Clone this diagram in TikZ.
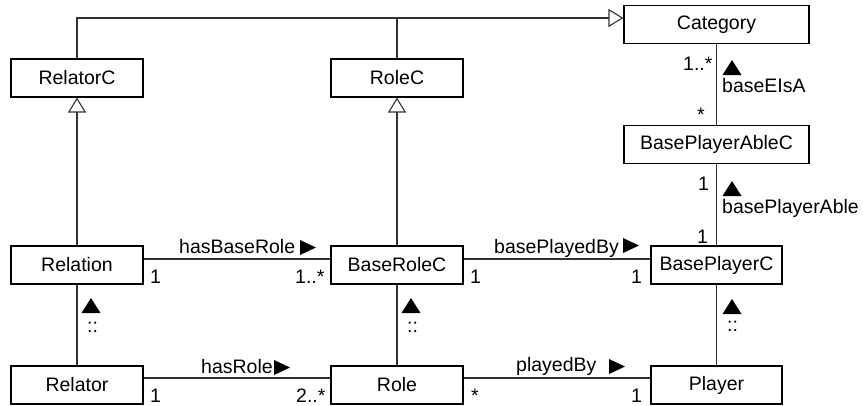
\documentclass[tikz,border=0pt]{standalone}
\usepackage{fontspec}
\setmainfont{Liberation Sans}
\usetikzlibrary{arrows.meta}
\begin{document}
\begin{tikzpicture}[x=1pt,y=-1pt,
  every node/.style={font=\fontsize{19.5}{23}\selectfont},
  box/.style={draw=black, line width=1.1pt, minimum width=132pt, minimum height=38pt, inner sep=0pt, fill=white},
  widebox/.style={box, minimum width=185pt},
  lbl/.style={anchor=base west, inner sep=0pt, text depth=0pt},
  conn/.style={draw=black!80, line width=1.1pt},
  gen/.style={conn, -{Triangle[open, length=15pt, width=18pt]}},
  uptri/.pic={\fill (-9.5,0) -- (9.5,0) -- (0,-15) -- cycle;},
  rtri/.pic={\fill (0,0) -- (0,-15) -- (16,-7.5) -- cycle;}
]
\useasboundingbox (0,0) rectangle (863,405);

% classes
\node[box] (relatorC) at (77,78) {RelatorC};
\node[box] (roleC) at (397,78) {RoleC};
\node[widebox] (category) at (716.5,24.5) {Category};
\node[widebox] (bpac) at (716.5,144.5) {BasePlayerAbleC};
\node[box] (relation) at (77,265) {Relation};
\node[box] (baseRoleC) at (397,265) {BaseRoleC};
\node[box, minimum width=131pt] (bpc) at (716.5,265) {BasePlayerC};
\node[box] (relator) at (77,385) {Relator};
\node[box] (role) at (397,385) {Role};
\node[box, minimum width=131pt] (player) at (716.5,385) {Player};

% generalizations
\coordinate (top) at (0,18);
\draw[gen] (relatorC.north) -- (relatorC.north |- top) -- (category.west |- top);
\draw[conn] (roleC.north) -- (roleC.north |- top);
\draw[gen] (relation.north) -- (relatorC.south);
\draw[gen] (baseRoleC.north) -- (roleC.south);

% associations
\draw[conn] ([yshift=6pt]relation.east) -- ([yshift=6pt]baseRoleC.west);
\draw[conn] ([yshift=6pt]baseRoleC.east) -- ([yshift=6pt]bpc.west);
\draw[conn] ([yshift=7pt]relator.east) -- ([yshift=7pt]role.west);
\draw[conn] ([yshift=7pt]role.east) -- ([yshift=7pt]player.west);
\draw[conn] (relation.south) -- (relator.north);
\draw[conn] (baseRoleC.south) -- (role.north);
\draw[conn] (bpc.south) -- (player.north);
\draw[conn] (category.south) -- (bpac.north);
\draw[conn] (bpac.south) -- (bpc.north);

% labels: row 1 associations
\node[lbl] (nHasBaseRole) at (179,253) {hasBaseRole};
\pic at (300,255) {rtri};
\node[lbl] (m1) at (150,283) {1};
\node[lbl] (m2) at (295,283) {1..*};
\node[lbl] (nBasePlayedBy) at (494,253) {basePlayedBy};
\pic at (623,253) {rtri};
\node[lbl] (m3) at (470,283) {1};
\node[lbl] (m4) at (631,283) {1};

% labels: row 2 associations
\node[lbl] (nHasRole) at (201,373) {hasRole};
\pic at (274,375) {rtri};
\node[lbl] (m5) at (150,402) {1};
\node[lbl] (m6) at (296,402) {2..*};
\node[lbl] (nPlayedBy) at (516,371) {playedBy};
\pic at (609,374) {rtri};
\node[lbl] (m7) at (471,402) {*};
\node[lbl] (m8) at (631,402) {1};

% right column
\node[lbl] (m9) at (683,70) {1..*};
\pic at (732,75) {uptri};
\node[lbl] (nBaseEIsA) at (722,92) {baseEIsA};
\node[lbl] (m10) at (697,121) {*};
\node[lbl] (m11) at (698,190) {1};
\pic at (732,196) {uptri};
\node[lbl] (nBPA) at (722,213) {basePlayerAble};
\node[lbl] (m12) at (697,243) {1};

% vertical derivations
\pic at (91,313) {uptri};
\node[lbl] (d1) at (87,332) {::};
\pic at (411,313) {uptri};
\node[lbl] (d2) at (407,332) {::};
\pic at (732,314) {uptri};
\node[lbl] (d3) at (727,331) {::};
\end{tikzpicture}
\end{document}
